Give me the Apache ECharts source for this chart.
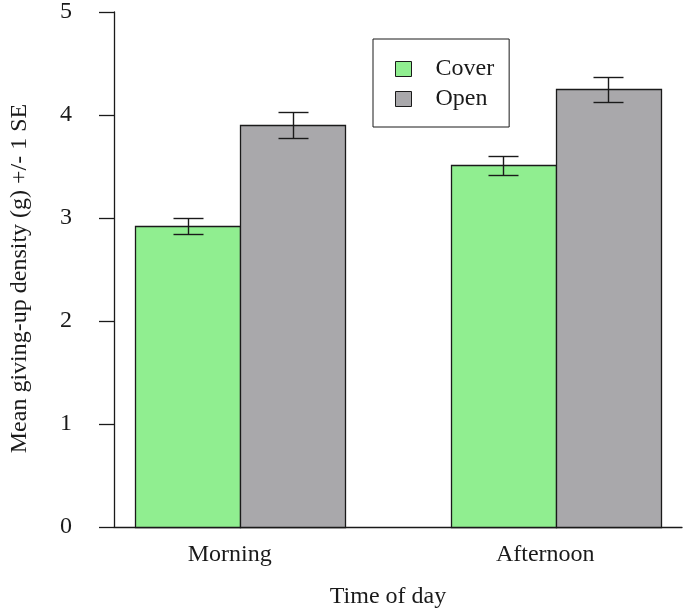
<!DOCTYPE html>
<html>
<head>
<meta charset="utf-8">
<script src="https://cdn.jsdelivr.net/npm/echarts@6/dist/echarts.min.js"></script>
<style>
html,body{margin:0;padding:0;background:#fff;}
#chart{width:685px;height:615px;}
</style>
</head>
<body>
<div id="chart"></div>
<script>
// ---- data ----
var categories = ['Morning', 'Afternoon'];
var seriesNames = ['Cover', 'Open'];
var coverMeans = [2.92, 3.51];
var openMeans = [3.90, 4.25];
var coverSE = [0.08, 0.095];
var openSE = [0.125, 0.12];
var yTicks = [0, 1, 2, 3, 4, 5];

// ---- style ----
var FONT = 'Liberation Serif';
var INK = '#1a1a1a';
var colors = ['#90ee90', '#a9a8ab'];

var means = [coverMeans, openMeans];
var ses = [coverSE, openSE];

// R barplot(beside=TRUE) layout: group i, bar s -> center at i*3 + 1.5 + s
function barPos(i, s) { return i * 3 + 1.5 + s; }

function barSeries(s) {
  return {
    type: 'custom',
    name: seriesNames[s],
    itemStyle: { color: colors[s] },
    data: categories.map(function (c, i) { return [barPos(i, s), means[s][i]]; }),
    renderItem: function (params, api) {
      var x = api.value(0), y = api.value(1);
      var p0 = api.coord([x - 0.5, y]);
      var p1 = api.coord([x + 0.5, 0]);
      return {
        type: 'rect',
        shape: { x: Math.round(p0[0]) + 0.5, y: Math.round(p0[1]) + 0.5,
                 width: Math.round(p1[0]) - Math.round(p0[0]),
                 height: Math.round(p1[1]) - Math.round(p0[1]) },
        style: { fill: colors[s], stroke: INK, lineWidth: 1.3 }
      };
    },
    z: 2
  };
}

function errSeries(s) {
  return {
    type: 'custom',
    name: 'err' + s,
    data: categories.map(function (c, i) { return [barPos(i, s), means[s][i], ses[s][i]]; }),
    renderItem: function (params, api) {
      var x = api.value(0), m = api.value(1), e = api.value(2);
      var top = api.coord([x, m + e]);
      var bot = api.coord([x, m - e]);
      var cx = Math.round(top[0]) + 0.5;
      var ty = Math.round(top[1]) + 0.5, by = Math.round(bot[1]) + 0.5;
      var hw = 15;
      var st = { stroke: INK, lineWidth: 1.4 };
      return {
        type: 'group',
        children: [
          { type: 'line', shape: { x1: cx, y1: ty, x2: cx, y2: by }, style: st },
          { type: 'line', shape: { x1: cx - hw, y1: ty, x2: cx + hw, y2: ty }, style: st },
          { type: 'line', shape: { x1: cx - hw, y1: by, x2: cx + hw, y2: by }, style: st }
        ]
      };
    },
    z: 3
  };
}

var labelPos = categories.map(function (c, i) { return i * 3 + 2 - 0.1; });

var chart = echarts.init(document.getElementById('chart'));
chart.setOption({
  animation: false,
  backgroundColor: '#fff',
  textStyle: { fontFamily: FONT },
  grid: { left: 108, right: 3, top: 7, bottom: 88, containLabel: false },
  legend: {
    orient: 'vertical',
    left: 373,
    top: 39,
    borderColor: INK,
    borderWidth: 1,
    padding: [18, 15, 16, 22],
    itemWidth: 16,
    itemHeight: 15,
    itemGap: 6,
    textStyle: { fontFamily: FONT, fontSize: 24, color: INK, padding: [0, 0, 0, 19], lineHeight: 24 },
    data: seriesNames.map(function (n, s) {
      return { name: n, icon: 'rect', itemStyle: { color: colors[s], borderColor: INK, borderWidth: 1 } };
    })
  },
  xAxis: {
    type: 'value',
    min: 0.8,
    max: 6.2,
    splitLine: { show: false },
    axisLine: { show: true, lineStyle: { color: INK, width: 1.3 } },
    axisTick: { show: false },
    axisLabel: {
      customValues: labelPos,
      margin: 16,
      fontFamily: FONT,
      fontSize: 24,
      color: INK,
      formatter: function (v) {
        var i = Math.round((v + 0.1 - 2) / 3);
        return categories[i] || '';
      }
    },
    name: 'Time of day',
    nameLocation: 'middle',
    nameGap: 58,
    nameTextStyle: { fontFamily: FONT, fontSize: 24, color: INK, padding: [0, 20, 0, 0] }
  },
  yAxis: {
    type: 'value',
    min: 0,
    max: 5,
    interval: 1,
    splitLine: { show: false },
    axisLine: { show: true, lineStyle: { color: INK, width: 1.3 } },
    axisTick: { show: true, inside: false, length: 15, lineStyle: { color: INK, width: 1.3 } },
    axisLabel: {
      margin: 42,
      fontFamily: FONT,
      fontSize: 24,
      color: INK,
      padding: [4, 0, 0, 0],
      formatter: function (v) { return yTicks.indexOf(v) >= 0 ? String(v) : ''; }
    },
    name: 'Mean giving-up density (g) +/- 1 SE',
    nameLocation: 'middle',
    nameGap: 82,
    nameRotate: 90,
    nameTextStyle: { fontFamily: FONT, fontSize: 24, color: INK, padding: [0, 18, 0, 0] }
  },
  series: [barSeries(0), barSeries(1), errSeries(0), errSeries(1)]
});
</script>
</body>
</html>
